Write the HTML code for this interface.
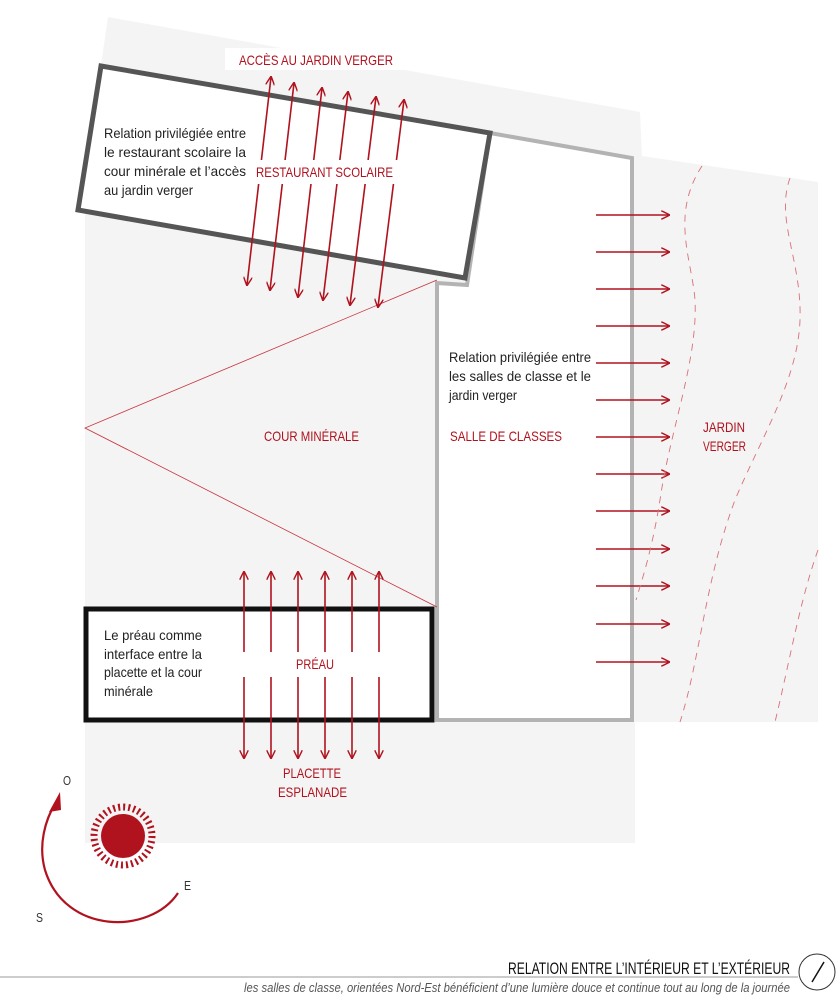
<!DOCTYPE html>
<html><head><meta charset="utf-8"><style>
html,body{margin:0;padding:0;background:#fff;}
svg{display:block;}
text{font-family:"Liberation Sans",sans-serif;}
.r{fill:#b0121e;font-size:14px;}
.k{fill:#222;font-size:14px;}
</style></head><body>
<svg width="836" height="1000" viewBox="0 0 836 1000" xmlns="http://www.w3.org/2000/svg">
<defs>
<marker id="ah" viewBox="0 0 10 10" refX="9" refY="5" markerWidth="9" markerHeight="9" orient="auto-start-reverse" markerUnits="userSpaceOnUse">
<path d="M0,0 L10,5 L0,10" fill="none" stroke="#b0121e" stroke-width="1.6"/>
</marker>
</defs>
<polygon points="108,17 640,112 642,158 635,158 635,843 85,843 85,210 80,210" fill="#f4f4f4"/>
<polygon points="635,155 818,182 818,722 635,722" fill="#f4f4f4"/>
<rect x="225" y="48" width="180" height="22" fill="#fff"/>
<polygon points="490,133 632,158 632,720 437,720 437,283 467,285" fill="#fff" stroke="#b3b3b3" stroke-width="4"/>
<polygon points="101,66 490,133 465,278 78,210" fill="#fff" stroke="#555" stroke-width="5"/>
<polyline points="437,280 85,428 437,607" fill="none" stroke="#c8323c" stroke-width="0.8"/>
<rect x="86" y="609" width="346" height="111" fill="#fff" stroke="#111" stroke-width="5"/>
<g stroke="#b0121e" stroke-width="1.6" marker-start="url(#ah)" marker-end="url(#ah)">
<line x1="247" y1="285" x2="271" y2="77"/>
<line x1="270" y1="290" x2="294" y2="83"/>
<line x1="298" y1="297" x2="322" y2="88"/>
<line x1="323" y1="300" x2="348" y2="92"/>
<line x1="350" y1="305" x2="376" y2="97"/>
<line x1="378" y1="307" x2="404" y2="100"/>
</g>
<rect x="252" y="160" width="146" height="24" fill="#fff"/>
<g stroke="#b0121e" stroke-width="1.6" marker-start="url(#ah)" marker-end="url(#ah)">
<line x1="244" y1="572" x2="244" y2="758"/>
<line x1="271" y1="572" x2="271" y2="758"/>
<line x1="298" y1="572" x2="298" y2="758"/>
<line x1="325" y1="572" x2="325" y2="758"/>
<line x1="352" y1="572" x2="352" y2="758"/>
<line x1="379" y1="572" x2="379" y2="758"/>
</g>
<rect x="238" y="652" width="150" height="25" fill="#fff"/>
<g stroke="#b0121e" stroke-width="1.6" marker-end="url(#ah)">
<line x1="596" y1="215" x2="669" y2="215"/><line x1="596" y1="252" x2="669" y2="252"/>
<line x1="596" y1="289" x2="669" y2="289"/><line x1="596" y1="326" x2="669" y2="326"/>
<line x1="596" y1="363" x2="669" y2="363"/><line x1="596" y1="400" x2="669" y2="400"/>
<line x1="596" y1="437" x2="669" y2="437"/><line x1="596" y1="474" x2="669" y2="474"/>
<line x1="596" y1="511" x2="669" y2="511"/><line x1="596" y1="549" x2="669" y2="549"/>
<line x1="596" y1="586" x2="669" y2="586"/><line x1="596" y1="624" x2="669" y2="624"/>
<line x1="596" y1="662" x2="669" y2="662"/>
</g>
<g fill="none" stroke="#d9707a" stroke-width="0.9" stroke-dasharray="7,6">
<path d="M702,166 C670,215 692,260 695,300 C698,360 670,430 660,500 C652,550 642,580 636,600"/>
<path d="M790,178 C775,220 802,260 800,320 C798,380 760,440 735,500 C705,580 700,660 680,722"/>
<path d="M818,550 C800,600 790,660 775,722"/>
</g>
<g class="r" lengthAdjust="spacingAndGlyphs">
<text x="239" y="65" textLength="154" lengthAdjust="spacingAndGlyphs">ACCÈS AU JARDIN VERGER</text>
<text x="256" y="177" textLength="137" lengthAdjust="spacingAndGlyphs">RESTAURANT SCOLAIRE</text>
<text x="264" y="441" textLength="95" lengthAdjust="spacingAndGlyphs">COUR MINÉRALE</text>
<text x="450" y="441" textLength="112" lengthAdjust="spacingAndGlyphs">SALLE DE CLASSES</text>
<text x="703" y="432" textLength="42" lengthAdjust="spacingAndGlyphs">JARDIN</text>
<text x="703" y="451" textLength="43" lengthAdjust="spacingAndGlyphs">VERGER</text>
<text x="296" y="669" textLength="38" lengthAdjust="spacingAndGlyphs">PRÉAU</text>
<text x="283" y="778" textLength="58" lengthAdjust="spacingAndGlyphs">PLACETTE</text>
<text x="278" y="797" textLength="69" lengthAdjust="spacingAndGlyphs">ESPLANADE</text>
</g>
<g class="k">
<text x="104" y="138" textLength="142" lengthAdjust="spacingAndGlyphs">Relation privilégiée entre</text>
<text x="104" y="157" textLength="142" lengthAdjust="spacingAndGlyphs">le restaurant scolaire la</text>
<text x="104" y="176" textLength="142" lengthAdjust="spacingAndGlyphs">cour minérale et l’accès</text>
<text x="104" y="195" textLength="89" lengthAdjust="spacingAndGlyphs">au jardin verger</text>
<text x="449" y="362" textLength="142" lengthAdjust="spacingAndGlyphs">Relation privilégiée entre</text>
<text x="449" y="381" textLength="142" lengthAdjust="spacingAndGlyphs">les salles de classe et le</text>
<text x="449" y="400" textLength="68" lengthAdjust="spacingAndGlyphs">jardin verger</text>
<text x="104" y="640" textLength="98" lengthAdjust="spacingAndGlyphs">Le préau comme</text>
<text x="104" y="659" textLength="98" lengthAdjust="spacingAndGlyphs">interface entre la</text>
<text x="104" y="677" textLength="98" lengthAdjust="spacingAndGlyphs">placette et la cour</text>
<text x="104" y="696" textLength="49" lengthAdjust="spacingAndGlyphs">minérale</text>
</g>
<circle cx="123" cy="836" r="22" fill="#b0121e"/>
<circle cx="123" cy="836" r="29" fill="none" stroke="#b0121e" stroke-width="7" stroke-dasharray="2,3.06"/>
<path d="M178,893 C150,935 65,935 45,870 C38,845 45,820 56,802" fill="none" stroke="#b0121e" stroke-width="2.2"/>
<polygon points="60,792 49,812 61,810" fill="#b0121e"/>
<text x="63" y="785" style="font-size:13px;fill:#333" textLength="8" lengthAdjust="spacingAndGlyphs">O</text>
<text x="184" y="890" style="font-size:13px;fill:#333" textLength="7" lengthAdjust="spacingAndGlyphs">E</text>
<text x="36" y="922" style="font-size:13px;fill:#333" textLength="7" lengthAdjust="spacingAndGlyphs">S</text>
<line x1="0" y1="977" x2="798" y2="977" stroke="#999" stroke-width="1"/>
<text x="508" y="974" style="font-size:17px;fill:#111" textLength="282" lengthAdjust="spacingAndGlyphs">RELATION ENTRE L’INTÉRIEUR ET L’EXTÉRIEUR</text>
<text x="244" y="992" style="font-size:12.5px;fill:#555;font-style:italic" textLength="546" lengthAdjust="spacingAndGlyphs">les salles de classe, orientées Nord-Est bénéficient d’une lumière douce et continue tout au long de la journée</text>
<circle cx="817" cy="972" r="18" fill="#fff" stroke="#333" stroke-width="1"/>
<line x1="812" y1="982" x2="824" y2="962" stroke="#111" stroke-width="1.5"/>
</svg>
</body></html>
